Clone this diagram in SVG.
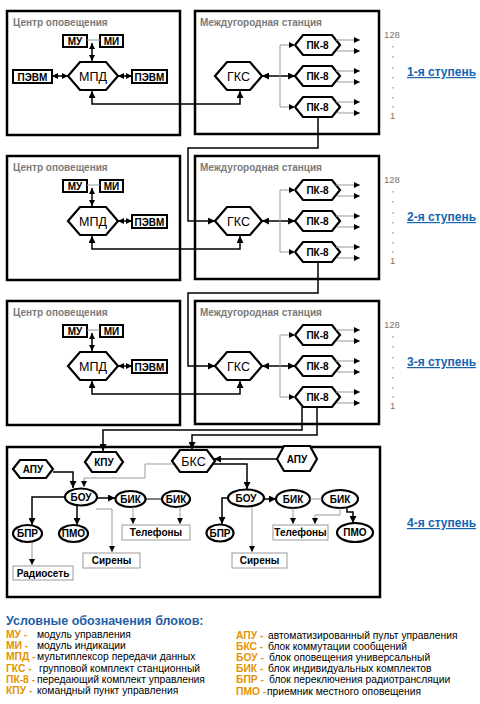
<svg xmlns="http://www.w3.org/2000/svg" width="480" height="704" viewBox="0 0 480 704">
<defs>
<marker id="a" viewBox="0 0 8 8" refX="8" refY="4" markerWidth="7" markerHeight="7" markerUnits="userSpaceOnUse" orient="auto-start-reverse"><path d="M0,0L8,4L0,8z" fill="#000"/></marker>
<marker id="as" viewBox="0 0 8 8" refX="8" refY="4" markerWidth="6" markerHeight="6" markerUnits="userSpaceOnUse" orient="auto-start-reverse"><path d="M0,0L8,4L0,8z" fill="#000"/></marker>
</defs>
<style>
text{font-family:"Liberation Sans",Arial,sans-serif}
.box{fill:#fff;stroke:#000;stroke-width:2.5}
.blk{fill:#fff;stroke:#000;stroke-width:2}
.hex{fill:#fff;stroke:#000;stroke-width:2.2}
.gbox{fill:#fff;stroke:#9a9a9a;stroke-width:1}
.ln{fill:none;stroke:#000;stroke-width:2}
.ln1{fill:none;stroke:#000;stroke-width:1.5}
.thin{fill:none;stroke:#000;stroke-width:1}
.gl{fill:none;stroke:#999;stroke-width:1}
.ttl{font-size:10px;font-weight:bold;fill:#7a7a7a}
.lb{font-size:10px;font-weight:bold;fill:#000;text-anchor:middle}
.big{font-size:12.5px;fill:#000;text-anchor:middle}
.num{font-size:9.5px;fill:#777}
.stp{font-size:12px;font-weight:bold;fill:#1565b0;text-decoration:underline}
.dot{fill:#777}
.ab{font-size:10.3px;font-weight:bold;fill:#e39400}
.ds{font-size:10.3px;fill:#000}
.lt{font-size:12.5px;font-weight:bold;fill:#1f5fa6}
</style>

<!-- ===== Stage 1 ===== -->
<g id="s1-center"><rect class="box" x="7" y="11" width="173" height="124"/><text class="ttl" x="13" y="26">Центр оповещения</text></g>
<g id="s1-station"><rect class="box" x="195" y="11" width="184" height="123"/><text class="ttl" x="200" y="26">Междугородная станция</text></g>
<g id="s1-mu"><rect class="blk" x="63" y="35" width="24" height="12"/><text class="lb" x="75" y="44.5">МУ</text></g>
<g id="s1-mi"><rect class="blk" x="100" y="35" width="23" height="12"/><text class="lb" x="111.5" y="44.5">МИ</text></g>
<g id="s1-mpd"><polygon class="hex" points="68,76 80,62 106,62 118,76 106,90 80,90"/><text class="big" x="93" y="81">МПД</text></g>
<g id="s1-pevm1"><rect class="blk" x="13" y="70" width="39" height="13"/><text class="lb" x="32.5" y="80.5">ПЭВМ</text></g>
<g id="s1-pevm2"><rect class="blk" x="132" y="70" width="35" height="13"/><text class="lb" x="149.5" y="80.5">ПЭВМ</text></g>
<g id="s1-gks"><polygon class="hex" points="215,76 227,62 250,62 262,76 250,90 227,90"/><text class="big" x="238.5" y="81">ГКС</text></g>
<g id="s1-pk1"><polygon class="hex" points="295,45 303,35 332,35 340,45 332,55 303,55"/><text class="lb" x="317.5" y="48.5">ПК-8</text></g>
<g id="s1-pk2"><polygon class="hex" points="295,76 303,66 332,66 340,76 332,86 303,86"/><text class="lb" x="317.5" y="79.5">ПК-8</text></g>
<g id="s1-pk3"><polygon class="hex" points="295,107 303,97 332,97 340,107 332,117 303,117"/><text class="lb" x="317.5" y="110.5">ПК-8</text></g>
<g id="s1-labels">
<text class="num" x="384" y="38">128</text>
<rect class="dot" x="392.5" y="46" width="1" height="1.5"/><rect class="dot" x="392.5" y="56" width="1" height="1.5"/><rect class="dot" x="392.5" y="67" width="1" height="1.5"/><rect class="dot" x="392.5" y="77" width="1" height="1.5"/><rect class="dot" x="392.5" y="87" width="1" height="1.5"/><rect class="dot" x="392.5" y="97" width="1" height="1.5"/><rect class="dot" x="392.5" y="106" width="1" height="1.5"/>
<text class="num" x="390" y="119">1</text>
<text class="stp" x="407" y="76">1-я ступень</text>
</g>

<!-- ===== Stage 2 ===== -->
<g id="s2-center"><rect class="box" x="7" y="156" width="173" height="124"/><text class="ttl" x="13" y="171">Центр оповещения</text></g>
<g id="s2-station"><rect class="box" x="195" y="156" width="184" height="123"/><text class="ttl" x="200" y="171">Междугородная станция</text></g>
<g id="s2-mu"><rect class="blk" x="63" y="180" width="24" height="12"/><text class="lb" x="75" y="189.5">МУ</text></g>
<g id="s2-mi"><rect class="blk" x="100" y="180" width="23" height="12"/><text class="lb" x="111.5" y="189.5">МИ</text></g>
<g id="s2-mpd"><polygon class="hex" points="68,221 80,207 106,207 118,221 106,235 80,235"/><text class="big" x="93" y="226">МПД</text></g>
<g id="s2-pevm"><rect class="blk" x="132" y="215" width="35" height="13"/><text class="lb" x="149.5" y="225.5">ПЭВМ</text></g>
<g id="s2-gks"><polygon class="hex" points="215,221 227,207 250,207 262,221 250,235 227,235"/><text class="big" x="238.5" y="226">ГКС</text></g>
<g id="s2-pk1"><polygon class="hex" points="295,190 303,180 332,180 340,190 332,200 303,200"/><text class="lb" x="317.5" y="193.5">ПК-8</text></g>
<g id="s2-pk2"><polygon class="hex" points="295,221 303,211 332,211 340,221 332,231 303,231"/><text class="lb" x="317.5" y="224.5">ПК-8</text></g>
<g id="s2-pk3"><polygon class="hex" points="295,252 303,242 332,242 340,252 332,262 303,262"/><text class="lb" x="317.5" y="255.5">ПК-8</text></g>
<g id="s2-labels">
<text class="num" x="384" y="183">128</text>
<rect class="dot" x="392.5" y="191" width="1" height="1.5"/><rect class="dot" x="392.5" y="201" width="1" height="1.5"/><rect class="dot" x="392.5" y="212" width="1" height="1.5"/><rect class="dot" x="392.5" y="222" width="1" height="1.5"/><rect class="dot" x="392.5" y="232" width="1" height="1.5"/><rect class="dot" x="392.5" y="242" width="1" height="1.5"/><rect class="dot" x="392.5" y="251" width="1" height="1.5"/>
<text class="num" x="390" y="264">1</text>
<text class="stp" x="407" y="221">2-я ступень</text>
</g>

<!-- ===== Stage 3 ===== -->
<g id="s3-center"><rect class="box" x="7" y="301" width="173" height="124"/><text class="ttl" x="13" y="316">Центр оповещения</text></g>
<g id="s3-station"><rect class="box" x="195" y="301" width="184" height="123"/><text class="ttl" x="200" y="316">Междугородная станция</text></g>
<g id="s3-mu"><rect class="blk" x="63" y="325" width="24" height="12"/><text class="lb" x="75" y="334.5">МУ</text></g>
<g id="s3-mi"><rect class="blk" x="100" y="325" width="23" height="12"/><text class="lb" x="111.5" y="334.5">МИ</text></g>
<g id="s3-mpd"><polygon class="hex" points="68,366 80,352 106,352 118,366 106,380 80,380"/><text class="big" x="93" y="371">МПД</text></g>
<g id="s3-pevm"><rect class="blk" x="132" y="360" width="35" height="13"/><text class="lb" x="149.5" y="370.5">ПЭВМ</text></g>
<g id="s3-gks"><polygon class="hex" points="215,366 227,352 250,352 262,366 250,380 227,380"/><text class="big" x="238.5" y="371">ГКС</text></g>
<g id="s3-pk1"><polygon class="hex" points="295,335 303,325 332,325 340,335 332,345 303,345"/><text class="lb" x="317.5" y="338.5">ПК-8</text></g>
<g id="s3-pk2"><polygon class="hex" points="295,366 303,356 332,356 340,366 332,376 303,376"/><text class="lb" x="317.5" y="369.5">ПК-8</text></g>
<g id="s3-pk3"><polygon class="hex" points="295,397 303,387 332,387 340,397 332,407 303,407"/><text class="lb" x="317.5" y="400.5">ПК-8</text></g>
<g id="s3-labels">
<text class="num" x="384" y="328">128</text>
<rect class="dot" x="392.5" y="336" width="1" height="1.5"/><rect class="dot" x="392.5" y="346" width="1" height="1.5"/><rect class="dot" x="392.5" y="357" width="1" height="1.5"/><rect class="dot" x="392.5" y="367" width="1" height="1.5"/><rect class="dot" x="392.5" y="377" width="1" height="1.5"/><rect class="dot" x="392.5" y="387" width="1" height="1.5"/><rect class="dot" x="392.5" y="396" width="1" height="1.5"/>
<text class="num" x="390" y="409">1</text>
<text class="stp" x="407" y="366">3-я ступень</text>
</g>

<!-- ===== Stage 4 ===== -->
<g id="s4-box"><rect class="box" x="7" y="447" width="373" height="150"/></g>
<g id="s4-kpu"><polygon class="hex" points="85,462 92,452 116,452 123,462 116,472 92,472"/><text class="lb" x="104" y="465.5">КПУ</text></g>
<g id="s4-bks"><polygon class="hex" points="172,461 180,450 207,450 215,461 207,472 180,472"/><text class="big" x="193.5" y="465.5">БКС</text></g>
<g id="s4-apu2"><polygon class="hex" points="277,459 284,446 310,446 317,459 310,471 284,471"/><text class="lb" x="297" y="462.5">АПУ</text></g>
<g id="s4-apu1"><polygon class="hex" points="13,469 20,460 46,460 53,469 46,478 20,478"/><text class="lb" x="33" y="472.5">АПУ</text></g>
<g id="s4-bou1"><ellipse class="hex" cx="81" cy="497" rx="16" ry="8.5"/><text class="lb" x="81" y="500.5">БОУ</text></g>
<g id="s4-bik1"><ellipse class="hex" cx="130.5" cy="499" rx="15" ry="8"/><text class="lb" x="130.5" y="502.5">БИК</text></g>
<g id="s4-bik2"><ellipse class="hex" cx="176" cy="499" rx="14" ry="8"/><text class="lb" x="176" y="502.5">БИК</text></g>
<g id="s4-bpr1"><ellipse class="hex" cx="27.5" cy="533.5" rx="14.5" ry="8.5"/><text class="lb" x="27.5" y="537">БПР</text></g>
<g id="s4-pmo1"><ellipse class="hex" cx="73.5" cy="533.5" rx="14.5" ry="8.5"/><text class="lb" x="73.5" y="537">ПМО</text></g>
<g id="s4-sir1"><rect class="gbox" x="83" y="553" width="57" height="15"/><text class="lb" x="111.5" y="564">Сирены</text></g>
<g id="s4-radio"><rect class="gbox" x="13" y="566" width="60" height="14"/><text class="lb" x="43" y="576.5">Радиосеть</text></g>
<g id="s4-tel1"><rect class="gbox" x="122" y="525" width="68" height="15"/><text class="lb" x="156" y="536">Телефоны</text></g>
<g id="s4-bou2"><ellipse class="hex" cx="246" cy="498" rx="18" ry="8.5"/><text class="lb" x="246" y="501.5">БОУ</text></g>
<g id="s4-bik3"><ellipse class="hex" cx="293" cy="499" rx="17" ry="9"/><text class="lb" x="293" y="502.5">БИК</text></g>
<g id="s4-bik4"><ellipse class="hex" cx="340" cy="499" rx="18" ry="9"/><text class="lb" x="340" y="502.5">БИК</text></g>
<g id="s4-pmo2"><ellipse class="hex" cx="355" cy="532.5" rx="18" ry="9.5"/><text class="lb" x="355" y="536">ПМО</text></g>
<g id="s4-bpr2"><ellipse class="hex" cx="220" cy="533" rx="13.5" ry="8.5"/><text class="lb" x="220" y="536.5">БПР</text></g>
<g id="s4-tel2"><rect class="gbox" x="273" y="525" width="55" height="15"/><text class="lb" x="300.5" y="536">Телефоны</text></g>
<g id="s4-sir2"><rect class="gbox" x="232" y="553" width="55" height="15"/><text class="lb" x="259.5" y="564">Сирены</text></g>
<g id="s4-label"><text class="stp" x="407" y="527">4-я ступень</text></g>

<!-- ===== Connectors ===== -->
<g id="connectors">
<!-- stage 1 -->
<path class="gl" d="M87,40H100"/>
<path class="ln1" d="M92,43V61" marker-start="url(#as)" marker-end="url(#as)"/>
<path class="ln1" d="M52,76H68" marker-start="url(#as)" marker-end="url(#as)"/>
<path class="ln1" d="M118,76H132" marker-start="url(#as)" marker-end="url(#as)"/>
<path class="ln1" d="M92,91V104H240V91" marker-start="url(#a)" marker-end="url(#a)"/>
<path class="ln1" d="M262,76H295" marker-start="url(#a)" marker-end="url(#a)"/>
<path class="gl" d="M295,45H280V107H295" marker-start="url(#as)" marker-end="url(#as)"/>
<path class="gl" d="M336,40H360" marker-end="url(#as)"/><path class="gl" d="M337,51H360" marker-end="url(#as)"/>
<path class="gl" d="M336,71H360" marker-end="url(#as)"/><path class="gl" d="M337,82H360" marker-end="url(#as)"/>
<path class="gl" d="M336,102H360" marker-end="url(#as)"/><path class="gl" d="M337,113H360" marker-end="url(#as)"/>
<path class="ln1" d="M318,117V148H188V221H215" marker-end="url(#a)"/>
<!-- stage 2 -->
<path class="gl" d="M87,185H100"/>
<path class="ln1" d="M92,188V206" marker-start="url(#as)" marker-end="url(#as)"/>
<path class="ln1" d="M118,221H132" marker-start="url(#as)" marker-end="url(#as)"/>
<path class="ln1" d="M92,236V249H240V236" marker-start="url(#a)" marker-end="url(#a)"/>
<path class="ln1" d="M262,221H295" marker-start="url(#a)" marker-end="url(#a)"/>
<path class="gl" d="M295,190H280V252H295" marker-start="url(#as)" marker-end="url(#as)"/>
<path class="gl" d="M336,185H360" marker-end="url(#as)"/><path class="gl" d="M337,196H360" marker-end="url(#as)"/>
<path class="gl" d="M336,216H360" marker-end="url(#as)"/><path class="gl" d="M337,227H360" marker-end="url(#as)"/>
<path class="gl" d="M336,247H360" marker-end="url(#as)"/><path class="gl" d="M337,258H360" marker-end="url(#as)"/>
<path class="ln1" d="M318,262V293H188V366H215" marker-end="url(#a)"/>
<!-- stage 3 -->
<path class="gl" d="M87,330H100"/>
<path class="ln1" d="M92,333V351" marker-start="url(#as)" marker-end="url(#as)"/>
<path class="ln1" d="M118,366H132" marker-start="url(#as)" marker-end="url(#as)"/>
<path class="ln1" d="M92,381V394H240V381" marker-start="url(#a)" marker-end="url(#a)"/>
<path class="ln1" d="M262,366H295" marker-start="url(#a)" marker-end="url(#a)"/>
<path class="gl" d="M295,335H280V397H295" marker-start="url(#as)" marker-end="url(#as)"/>
<path class="gl" d="M336,330H360" marker-end="url(#as)"/><path class="gl" d="M337,341H360" marker-end="url(#as)"/>
<path class="gl" d="M336,361H360" marker-end="url(#as)"/><path class="gl" d="M337,372H360" marker-end="url(#as)"/>
<path class="gl" d="M336,392H360" marker-end="url(#as)"/><path class="gl" d="M337,403H360" marker-end="url(#as)"/>
<path class="ln1" d="M302,407V430H103V451" marker-end="url(#a)"/>
<path class="ln1" d="M317,407V435H192V449" marker-end="url(#a)"/>
<!-- stage 4 -->
<path class="ln1" d="M277,459H214" marker-end="url(#a)"/>
<path class="ln1" d="M213,464H247V489" marker-end="url(#a)"/>
<path class="gl" d="M173,464H145V478H84V487" marker-end="url(#as)"/>
<path class="ln1" d="M53,472H73V488" marker-end="url(#a)"/>
<path class="ln1" d="M97,498H115" marker-end="url(#a)"/>
<path class="thin" d="M145.5,499H162"/>
<path class="ln1" d="M65,497H32V525" marker-end="url(#a)"/>
<path class="ln1" d="M77,505V525" marker-end="url(#a)"/>
<path class="gl" d="M96,509H112V552" marker-end="url(#as)"/>
<path class="gl" d="M32,543V565" marker-end="url(#as)"/>
<path class="gl" d="M133,507V524" marker-end="url(#as)"/>
<path class="gl" d="M180,507V524" marker-end="url(#as)"/>
<path class="ln1" d="M264,499H276" marker-end="url(#a)"/>
<path class="gl" d="M310,499H322"/>
<path class="ln1" d="M347,508V512H353V523" marker-end="url(#a)"/>
<path class="gl" d="M293,508V524" marker-end="url(#as)"/>
<path class="gl" d="M340,508V515H315V524" marker-end="url(#as)"/>
<path class="ln1" d="M228,498H222V524" marker-end="url(#a)"/>
<path class="gl" d="M252,507V552" marker-end="url(#as)"/>
</g>

<!-- ===== Legend ===== -->
<g id="legend">
<text class="lt" x="6" y="625">Условные обозначения блоков:</text>
<text class="ab" x="6" y="638">МУ -</text><text class="ds" x="37" y="638">модуль управления</text>
<text class="ab" x="6" y="649.2">МИ -</text><text class="ds" x="37" y="649.2">модуль индикации</text>
<text class="ab" x="6" y="660.4">МПД -</text><text class="ds" x="37" y="660.4">мультиплексор передачи данных</text>
<text class="ab" x="6" y="671.6">ГКС -</text><text class="ds" x="39" y="671.6">групповой комплект станционный</text>
<text class="ab" x="6" y="682.8">ПК-8 -</text><text class="ds" x="37" y="682.8">передающий комплект управления</text>
<text class="ab" x="6" y="694">КПУ -</text><text class="ds" x="37" y="694">командный пункт управления</text>
<text class="ab" x="236" y="638.5">АПУ -</text><text class="ds" x="268" y="638.5">автоматизированный пульт управления</text>
<text class="ab" x="236" y="649.7">БКС -</text><text class="ds" x="268" y="649.7">блок коммутации сообщений</text>
<text class="ab" x="236" y="660.9">БОУ -</text><text class="ds" x="269" y="660.9">блок оповещения универсальный</text>
<text class="ab" x="236" y="672.1">БИК -</text><text class="ds" x="268" y="672.1">блок индивидуальных комплектов</text>
<text class="ab" x="236" y="683.3">БПР -</text><text class="ds" x="269" y="683.3">блок переключения радиотрансляции</text>
<text class="ab" x="236" y="694.5">ПМО -</text><text class="ds" x="267" y="694.5">приемник местного оповещения</text>
</g>
</svg>
